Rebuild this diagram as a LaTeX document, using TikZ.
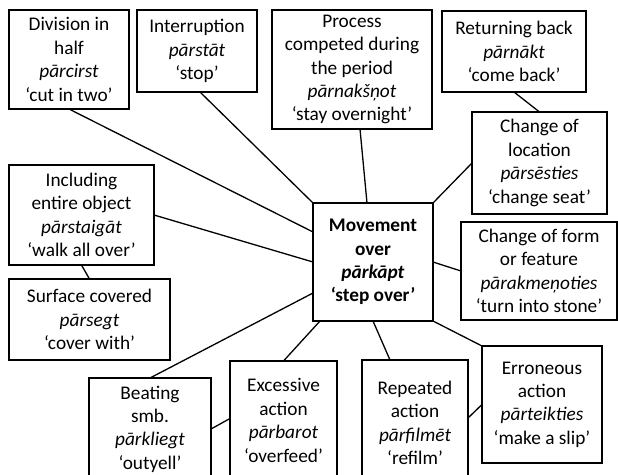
\documentclass[tikz,border=0pt]{standalone}
\usepackage{fontspec}
\setmainfont{Carlito}
\usetikzlibrary{calc}
\tikzset{
  box/.style={draw, line width=1.5pt, inner sep=0pt, outer sep=0pt, align=center,
    font=\fontsize{19.3}{23.4}\selectfont},
  link/.style={line width=1.3pt}
}
\begin{document}
\begin{tikzpicture}[x=1pt,y=-1pt]
\path[use as bounding box, clip] (0,0) rectangle (618,474);
\fill[white] (0,0) rectangle (618,474);
% boxes
\node[box, minimum width=120pt, minimum height=99pt] (div) at (69,59.5)
  {Division in\\half\\\textit{pārcirst}\\‘cut in two’};
\node[box, minimum width=120pt, minimum height=82pt] (int) at (197,51)
  {Interruption\\\textit{pārstāt}\\‘stop’};
\node[box, minimum width=160pt, minimum height=119pt] (proc) at (352,69.5)
  {Process\\competed during\\the period\\\textit{pārnakšņot}\\‘stay overnight’};
\node[box, minimum width=144pt, minimum height=81pt] (ret) at (514,51.5)
  {Returning back\\\textit{pārnākt}\\‘come back’};
\node[box, minimum width=135pt, minimum height=102pt] (loc) at (539.5,163)
  {Change of\\location\\\textit{pārsēsties}\\‘change seat’};
\node[box, minimum width=156pt, minimum height=98pt] (form) at (539,271)
  {Change of form\\or feature\\\textit{pārakmeņoties}\\‘turn into stone’};
\node[box, minimum width=120pt, minimum height=118pt] (cen) at (373,262)
  {\textbf{Movement}\\\textbf{over}\\\textbf{\textit{pārkāpt}}\\\textbf{‘step over’}};
\node[box, minimum width=145pt, minimum height=100pt] (incl) at (81.5,215)
  {Including\\entire object\\\textit{pārstaigāt}\\‘walk all over’};
\node[box, minimum width=161pt, minimum height=81pt] (surf) at (89.5,319.5)
  {Surface covered\\\textit{pārsegt}\\‘cover with’};
\node[box, minimum width=122pt, minimum height=102pt] (beat) at (150,429)
  {Beating\\smb.\\\textit{pārkliegt}\\‘outyell’};
\node[box, minimum width=107pt, minimum height=119pt] (exc) at (283.5,420.5)
  {Excessive\\action\\\textit{pārbarot}\\‘overfeed’};
\node[box, minimum width=106pt, minimum height=126pt] (rep) at (415,423)
  {Repeated\\action\\\textit{pārfilmēt}\\‘refilm’};
\node[box, minimum width=120pt, minimum height=117pt] (err) at (542,404.5)
  {Erroneous\\action\\\textit{pārteikties}\\‘make a slip’};
% connectors
\draw[link] (div.south) -- ([yshift=30pt]cen.west);
\draw[link] ([xshift=3pt]int.south) -- (cen.north west);
\draw[link] ([xshift=8pt]proc.south) -- ([xshift=-6pt]cen.north);
\draw[link] (ret.south) -- (loc.north);
\draw[link] (loc.west) -- (cen.north east);
\draw[link] (incl.east) -- (cen.west);
\draw[link] (incl.south) -- (surf.north);
\draw[link] (beat.north) -- ([yshift=-31pt]cen.west);
\draw[link] (form.west) -- (cen.east);
\draw[link] (cen.south east) -- (err.north west);
\draw[link] (cen.south) -- ([xshift=-25pt]rep.north);
\draw[link] ([xshift=7pt]cen.south west) -- (exc.north);
\draw[link] (beat.east) -- ([yshift=2pt]exc.west);
\draw[link] ([yshift=5pt]rep.east) -- (err.west);
\end{tikzpicture}
\end{document}
